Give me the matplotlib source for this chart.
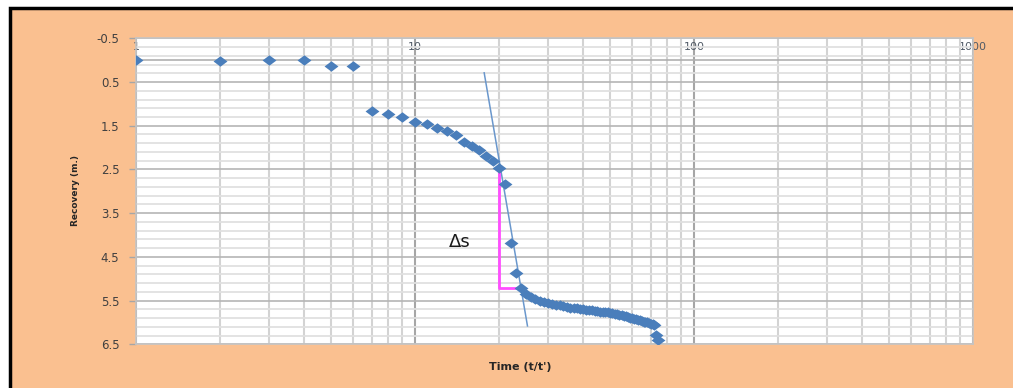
import numpy as np
import matplotlib
matplotlib.use('Agg')
import matplotlib.pyplot as plt
from matplotlib.patches import Rectangle
from matplotlib.ticker import FixedLocator, LogLocator, NullFormatter

plt.rcParams['axes.unicode_minus'] = False

# t/t' ratio and recovery readings (m.)
t_ratio = [1, 2, 3, 4, 5, 6, 7, 8, 9, 10, 11, 12, 13, 14, 15, 16, 17, 18, 19, 20,
           21, 22, 23, 24, 25, 26, 27, 28, 29, 30, 31, 32, 33, 34, 35, 36, 37, 38, 39, 40,
           41, 42, 43, 44, 45, 46, 47, 48, 49, 50, 51, 52, 53, 54, 55, 56, 57, 58, 59, 60,
           61, 62, 63, 64, 65, 66, 67, 68, 69, 70, 71, 72, 73, 74]
recovery = [0.00, 0.02, 0.00, 0.00, 0.13, 0.14, 1.16, 1.23, 1.31, 1.41,
            1.46, 1.56, 1.62, 1.71, 1.87, 1.96, 2.06, 2.19, 2.31, 2.46,
            2.83, 4.18, 4.88, 5.21, 5.36, 5.42, 5.47, 5.50, 5.53, 5.55,
            5.57, 5.59, 5.61, 5.63, 5.64, 5.66, 5.665, 5.68, 5.69, 5.70,
            5.71, 5.715, 5.72, 5.73, 5.745, 5.75, 5.76, 5.765, 5.77, 5.78,
            5.79, 5.80, 5.81, 5.82, 5.83, 5.845, 5.86, 5.87, 5.89, 5.905,
            5.92, 5.93, 5.945, 5.955, 5.965, 5.98, 5.99, 6.00, 6.01, 6.025,
            6.04, 6.055, 6.29, 6.40]

# straight-line fit through the late-time data
tangent_x = [17.7, 25.3]
tangent_y = [0.29, 6.08]

# delta s construction
delta_x = [20, 20, 23.5]
delta_y = [2.47, 5.22, 5.22]
delta_label = ('\u0394s', 14.5, 4.15)

x_ticks = [1, 10, 100, 1000]
x_ticklabels = ['1', '10', '100', '1000']
y_ticks = [-0.5, 0.5, 1.5, 2.5, 3.5, 4.5, 5.5, 6.5]

fig = plt.figure(figsize=(10.13, 3.88), dpi=100)
fig.patch.set_facecolor('white')

# orange chart area with black frame on left/top
fig.patches.append(Rectangle((10 / 1013, -0.05), 1.1, (388 - 8) / 388 + 0.05,
                             transform=fig.transFigure, facecolor='#FAC090',
                             edgecolor='black', linewidth=2.5, zorder=-10))

ax = fig.add_axes([136 / 1013, (388 - 344.3) / 388, 837 / 1013, 306 / 388])
ax.set_zorder(2)
ax.set_facecolor('white')

ax.set_xscale('log')
ax.set_xlim(1, 1000)
ax.set_ylim(6.5, -0.5)

# gridlines
ax.xaxis.set_major_locator(FixedLocator(x_ticks))
ax.xaxis.set_minor_locator(LogLocator(base=10, subs=np.arange(2, 10)))
ax.xaxis.set_minor_formatter(NullFormatter())
ax.yaxis.set_major_locator(FixedLocator(y_ticks))
ax.yaxis.set_minor_locator(FixedLocator(np.arange(-0.5, 6.51, 0.2)))

ax.grid(which='major', axis='x', color='#A6A6A6', linewidth=1.5, zorder=1)
ax.grid(which='minor', axis='x', color='#D3D3D3', linewidth=1.5, zorder=1)
ax.grid(which='major', axis='y', color='#B5B5B5', linewidth=1.2, zorder=1)
ax.grid(which='minor', axis='y', color='#E0E0E0', linewidth=1.3, zorder=1)
ax.axhline(0, color='#B0B0B0', linewidth=1.2, zorder=1)
ax.set_axisbelow(True)

for side in ['top', 'right', 'bottom', 'left']:
    ax.spines[side].set_color('#C4C4C4')
    ax.spines[side].set_linewidth(1.2)

ax.tick_params(axis='x', which='both', top=False, bottom=False,
               labeltop=True, labelbottom=False, length=0, pad=-10,
               labelsize=8, labelcolor='#505a66')
ax.set_xticklabels(x_ticklabels)
ax.tick_params(axis='y', which='major', left=True, length=5, width=1,
               color='#A6A6A6', pad=7, labelsize=8.5, labelcolor='#404040')
ax.tick_params(axis='y', which='minor', left=False)

# data
diamond = [(-1, 0), (0, 0.75), (1, 0), (0, -0.75), (-1, 0)]
ax.plot(tangent_x, tangent_y, color='#6A97CC', linewidth=1.1, zorder=3)
ax.plot(delta_x, delta_y, color='#FF4DFF', linewidth=2, zorder=3)
ax.plot(t_ratio, recovery, linestyle='none', marker=diamond, markersize=10,
        color='#4A7EBB', markeredgewidth=0, zorder=4)
ax.text(delta_label[1], delta_label[2], delta_label[0], fontsize=13,
        ha='center', va='center', color='#1a1a1a', zorder=5)

fig.text(520 / 1013, 1 - 367 / 388, "Time (t/t')", fontsize=8, fontweight='bold',
         ha='center', va='center', color='#262626')
fig.text(76 / 1013, 1 - 191 / 388, 'Recovery (m.)', fontsize=6.5, fontweight='bold',
         rotation=90, ha='center', va='center', color='#262626',
         family=['Liberation Sans Narrow', 'DejaVu Sans'])

fig.savefig('out.png', dpi=100, facecolor=fig.get_facecolor())
plt.close(fig)
